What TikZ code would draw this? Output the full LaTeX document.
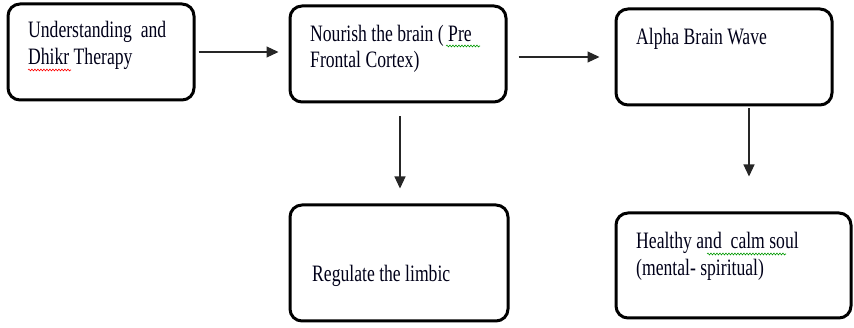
\documentclass[tikz,border=0pt]{standalone}
\usepackage{fontspec}
\setmainfont{Liberation Serif}[FakeStretch=0.75]
\usetikzlibrary{arrows.meta,decorations.pathmorphing}
\begin{document}
\begin{tikzpicture}[x=1pt,y=-1pt,
  box/.style={draw=black, line width=3pt, rounded corners=12pt, fill=white, inner sep=0pt},
  txt/.style={anchor=base west, inner sep=0pt, font=\fontsize{23.5}{27}\selectfont, text=black!90!blue},
  arr/.style={draw=black!85, line width=1.2pt, -{Triangle[length=12pt,width=11pt]}},
  squig/.style={line width=0.6pt, decorate, decoration={snake, amplitude=0.9pt, segment length=3pt}}]
\useasboundingbox (0,0) rectangle (854,328);
% boxes
\node[box, minimum width=186pt, minimum height=96pt] (b1) at (101,52) {};
\node[box, minimum width=216pt, minimum height=96pt] (b2) at (398,54) {};
\node[box, minimum width=216pt, minimum height=96pt] (b3) at (724,57) {};
\node[box, minimum width=218pt, minimum height=116pt] (b4) at (399,263) {};
\node[box, minimum width=235pt, minimum height=105pt] (b5) at (733.5,265.5) {};
% texts
\node[txt] (t1a) at (28,38) {Understanding\ \ and};
\node[txt] (t1b) at (28,65) {Dhikr Therapy};
\node[txt] (t2a) at (310,42) {Nourish the brain ( Pre};
\node[txt] (t2b) at (310,68) {Frontal Cortex)};
\node[txt] (t3) at (636,45) {Alpha Brain Wave};
\node[txt] (t4) at (312,282) {Regulate the limbic};
\node[txt] (t5a) at (636,249) {Healthy and\ \ calm soul};
\node[txt] (t5b) at (636,276) {(mental- spiritual)};
% spell-check squiggles
\draw[squig, red] (28,70) -- (71,70);
\draw[squig, green!60!black] (446,46) -- (480,46);
\draw[squig, green!60!black] (707,254) -- (786,254);
% connectors
\draw[arr, shorten <=3pt, shorten >=10pt] (b1.east) -- (b1.east -| b2.west);
\draw[arr, shorten <=11pt, shorten >=15pt] ([yshift=-3pt]b2.east) -- ([yshift=-3pt]b2.east -| b3.west);
\draw[arr, shorten <=13pt, shorten >=15pt] ([xshift=2pt]b2.south) -- ([xshift=2pt]b2.south |- b4.north);
\draw[arr, shorten <=2pt, shorten >=35pt] ([xshift=25pt]b3.south) -- ([xshift=25pt]b3.south |- b5.north);
\end{tikzpicture}
\end{document}
